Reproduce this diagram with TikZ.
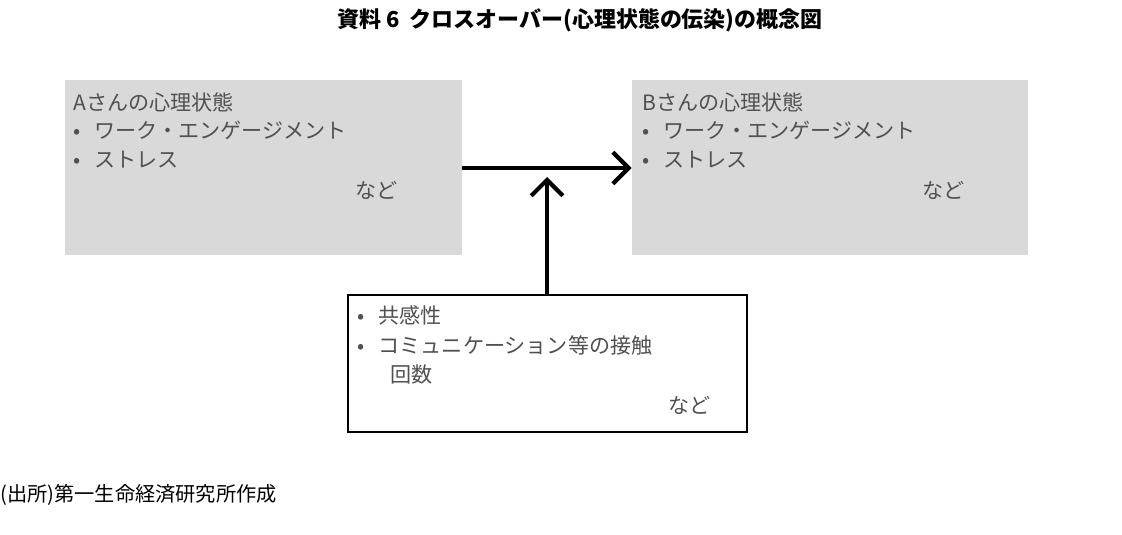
\documentclass[tikz,border=0pt]{standalone}
\usepackage{fontspec}
\setmainfont{Noto Sans CJK JP}
\usetikzlibrary{arrows.meta}
\definecolor{boxgray}{RGB}{217,217,217}
\definecolor{txtgray}{RGB}{80,80,80}
\begin{document}
\begin{tikzpicture}
  [x=0.02cm,y=-0.02cm,
   txt/.style={anchor=west,inner sep=0pt,text=txtgray,font=\fontsize{12}{14}\selectfont},
   state/.style={fill=boxgray,draw=none},
   flow/.style={line width=2.4pt,-{Straight Barb[length=9pt,width=18pt,line width=2.4pt]}}]
  \useasboundingbox (0,0) rectangle (1122,534);
  \node[font=\bfseries\fontsize{12.5}{14}\selectfont] (title) at (580,20) {資料 6\ \ クロスオーバー(心理状態の伝染)の概念図};

  \node[state,minimum width=397*0.02cm,minimum height=175*0.02cm] (a) at (263.5,167.5) {};
  \node[state,minimum width=396*0.02cm,minimum height=175*0.02cm] (b) at (830,167.5) {};
  \node[draw,line width=0.6pt,minimum width=399*0.02cm,minimum height=137*0.02cm] (c) at (547.5,363.5) {};

  \node[txt] (a1) at (73,102) {Aさんの心理状態};
  \node[txt] (a2) at (73,130) {•\ \ \ ワーク・エンゲージメント};
  \node[txt] (a3) at (73,160) {•\ \ \ ストレス};
  \node[txt] (a4) at (355,190) {など};

  \node[txt] (b1) at (642,102) {Bさんの心理状態};
  \node[txt] (b2) at (642,130) {•\ \ \ ワーク・エンゲージメント};
  \node[txt] (b3) at (642,160) {•\ \ \ ストレス};
  \node[txt] (b4) at (922,190) {など};

  \node[txt] (c1) at (357,315) {•\ \ \ 共感性};
  \node[txt] (c2) at (357,345) {•\ \ \ コミュニケーション等の接触};
  \node[txt] (c3) at (390,375) {回数};
  \node[txt] (c4) at (668,405) {など};

  \coordinate (m) at (547,168);
  \draw[flow] (a.east |- m) -- (b.west |- m);
  \draw[flow] (c.north -| m) -- ([yshift=-0.18cm]m);

  \node[anchor=west,inner sep=0pt,font=\fontsize{11.5}{13}\selectfont] (src) at (0,495) {(出所)第一生命経済研究所作成};
\end{tikzpicture}
\end{document}
